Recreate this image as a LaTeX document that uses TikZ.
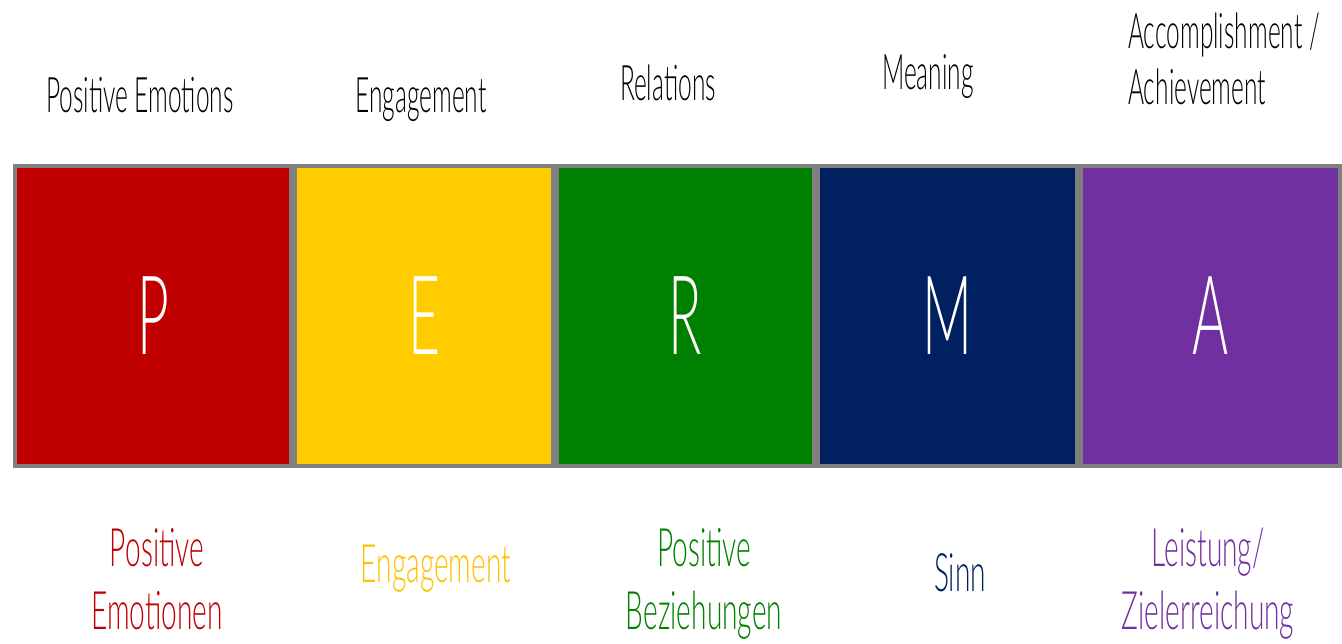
\documentclass[tikz,border=0pt]{standalone}
\usepackage{fontspec}
\usepackage{tikz}
\usetikzlibrary{positioning}
\newfontfamily\handfont{Lato Light}[FakeStretch=0.5]
\newfontfamily\handwide{Lato Light}[FakeStretch=0.53]
\definecolor{permaRed}{HTML}{C00000}
\definecolor{permaYellow}{HTML}{FFCC00}
\definecolor{permaGreen}{HTML}{008000}
\definecolor{permaBlue}{HTML}{002060}
\definecolor{permaPurple}{HTML}{7030A0}
\definecolor{permaGold}{HTML}{FFC000}
\definecolor{frameGray}{HTML}{808080}

\begin{document}
\begin{tikzpicture}[x=1pt,y=-1pt,
    cell/.style={draw=frameGray,line width=4pt,minimum height=300pt,inner sep=0pt,
      text=white,font=\handfont\fontsize{110}{120}\selectfont},
    toplabel/.style={inner sep=0pt,anchor=base,font=\handfont\fontsize{49}{57}\selectfont},
    germanlabel/.style={inner sep=0pt,align=center,font=\handwide\fontsize{53}{63}\selectfont}]
        \useasboundingbox (0,0) rectangle (1342,644);
        % the five PERMA cells
        \node[cell,fill=permaRed,minimum width=276pt,anchor=north west] (cellP) at (13,164) {P};
        \node[cell,fill=permaYellow,minimum width=258pt,right=0pt of cellP] (cellE) {E};
        \node[cell,fill=permaGreen,minimum width=257pt,right=0pt of cellE] (cellR) {R};
        \node[cell,fill=permaBlue,minimum width=259pt,right=0pt of cellR] (cellM) {M};
        \node[cell,fill=permaPurple,minimum width=259pt,right=0pt of cellM] (cellA) {A};
        % english labels above
        \node[toplabel] (enP) at (140,113) {Positive Emotions};
        \node[toplabel] (enE) at (421,113) {Engagement};
        \node[toplabel] (enR) at (668,101) {Relations};
        \node[toplabel] (enM) at (928,90) {Meaning};
        \node[inner sep=0pt,anchor=north west,align=left,
          font=\handfont\fontsize{49}{56}\selectfont] (enA) at (1128,13)
          {Accomplishment /\\Achievement};
        % german labels below
        \node[germanlabel,text=permaRed,anchor=north] (deP) at (157,528) {Positive\\Emotionen};
        \node[germanlabel,text=permaGold,anchor=base] (deE) at (436,582) {Engagement};
        \node[germanlabel,text=permaGreen,anchor=north] (deR) at (704,528) {Positive\\Beziehungen};
        \node[germanlabel,text=permaBlue,anchor=base] (deM) at (960,591) {Sinn};
        \node[germanlabel,text=permaPurple,anchor=north] (deA) at (1208,528) {Leistung/\\Zielerreichung};
      \end{tikzpicture}
\end{document}
